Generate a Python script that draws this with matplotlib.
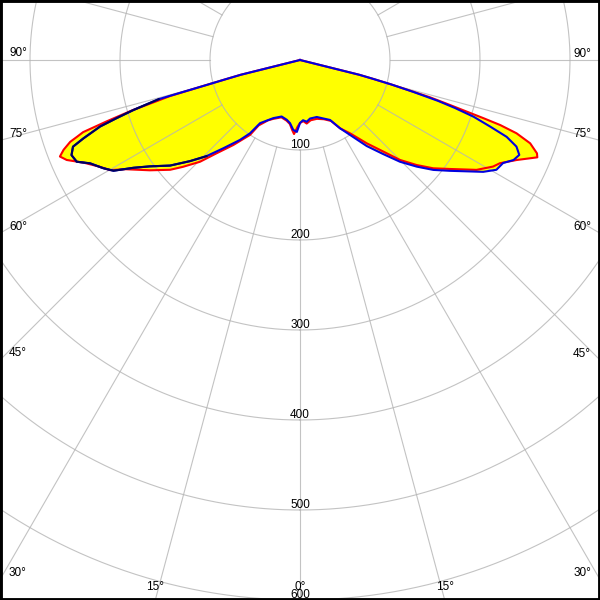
import numpy as np
import matplotlib
matplotlib.use("Agg")
import matplotlib.pyplot as plt
from matplotlib.patches import Rectangle
from matplotlib.transforms import offset_copy

# ---- data: luminous intensity (cd/klm) vs gamma angle (deg, negative = left) ----
red_gamma = [-180, -90, -77, -76, -75.5, -75, -74.5, -74, -73.3, -72.4, -71.6, -71, -70.4,
             -69.2, -68.1, -66.8, -64.6, -61.9, -59.9, -58, -53.7, -49.8, -47.6, -44.5,
             -41.8, -38.1, -33.7, -32.3, -28, -24.6, -18, -12.5, -9, -6.5, -4.6, -2, 0,
             3, 6, 10, 16, 22, 27, 30.4, 34.3, 38.7, 42.3, 45, 48, 50.9, 54, 58.1, 61.1,
             62.7, 65.2, 67.7, 68.5, 70.1, 71.3, 72, 72.4, 72.8, 73.3, 74, 75, 75.5, 76,
             77, 90, 180]
red_cd = [0, 0, 0, 68, 85, 110, 150, 165, 195, 225, 254, 262, 271,
          281, 287.5, 282, 266, 252, 244, 229, 207, 189, 176, 158.5,
          139, 120, 100, 86, 76, 72, 67, 69, 72, 78, 82.5, 74, 70,
          68, 71, 68, 68, 71, 76, 88, 98.6, 118.6, 137.6, 157, 174.4, 190.8, 206, 231, 245,
          250, 265, 285, 283, 272, 254, 234, 214, 194, 174, 150, 105, 85, 68,
          0, 0, 0]

blue_gamma = [-180, -90, -77, -76, -75.5, -75, -74.5, -73.3, -72.4, -71.6, -70.1, -69.1,
              -67.4, -65.5, -63.8, -61.2, -59.3, -57.1, -54.7, -50.9, -47.4, -44.2, -41,
              -36.9, -34.3, -32.3, -24.6, -18, -12.5, -9, -5.5, -2.5, 0,
              2.9, 6.2, 9.7, 16.4, 21.8, 26.6, 30.4, 33.7, 37.8, 41.5, 44.5, 47.6, 50.5,
              53.5, 58.6, 60.8, 63.1, 64.9, 66.6, 68.2, 69.6, 70.7, 71.9, 72.8, 73.5,
              74.3, 75, 75.5, 76, 77, 90, 180]
blue_cd = [0, 0, 0, 68, 85, 110, 163, 193, 214, 234, 256, 270,
           275, 272.6, 260, 249.5, 241, 220.5, 204.5, 186, 166, 149, 130,
           111, 98.6, 83, 71, 66, 68, 71, 78, 80, 70,
           67, 69, 66, 66, 70, 74.5, 88, 100, 121, 139.6, 158.5, 175.7, 192,
           207, 238.5, 250, 253, 262, 265.5, 259, 245, 224, 203, 180, 160,
           130, 105, 85, 68, 0, 0, 0]

navy_gamma = [-74.5, -73.3, -72.4, -71.6, -70.1, -69.1, -67.4, -65.5, -63.8, -61.2,
              -59.3, -57.1, -54.7, -50.9, -47.4, -44.2]
navy_cd = [163, 193, 214, 234, 256, 270, 275, 272.6, 260, 249.5,
           241, 220.5, 204.5, 186, 166, 149]

ring_values = [100, 200, 300, 400, 500, 600]
spoke_angles = list(range(0, 360, 15))
angle_labels = [90, 75, 60, 45, 30, 15, 0, -15, -30, -45, -60, -75, -90]

plt.rcParams['font.family'] = ['Liberation Sans', 'DejaVu Sans']
FS = 8.5

fig = plt.figure(figsize=(6, 6), dpi=100)
fig.patch.set_facecolor('white')
ax = fig.add_axes([-0.55, -0.15, 2.1, 2.1], projection='polar')
ax.set_theta_zero_location('S')
ax.set_theta_direction(1)
ax.set_rlim(0, 700)
ax.grid(False)
ax.set_xticks([])
ax.set_yticks([])
ax.spines['polar'].set_visible(False)
ax.set_facecolor('white')


def th(g):
    return np.deg2rad(np.asarray(g, dtype=float))


# yellow fill
ax.fill(th(red_gamma), red_cd, color='#FFFF00', lw=0, zorder=1)
ax.fill(th(blue_gamma), blue_cd, color='#FFFF00', lw=0, zorder=1)

# grid
grid_c = '#B4B4B4'
tt = np.linspace(0, 2 * np.pi, 1441)
for rv in ring_values:
    ax.plot(tt, np.full_like(tt, rv), color=grid_c, lw=0.8, alpha=0.8, zorder=2)
for a in spoke_angles:
    ax.plot(th([a, a]), [ring_values[0], 700], color=grid_c, lw=0.8, alpha=0.8, zorder=2)

# curves
ax.plot(th(red_gamma), red_cd, color='#FF0000', lw=1.5, zorder=3)
ax.plot(th(blue_gamma), blue_cd, color='#0000E0', lw=1.5, zorder=4)
ax.plot(th(navy_gamma), navy_cd, color='#00005A', lw=1.5, zorder=5)

# radial value labels
tr = offset_copy(ax.transData, fig=fig, x=0, y=2, units='dots')
for rv in ring_values:
    ax.text(0, rv, str(rv), ha='center', va='baseline', fontsize=FS, transform=tr,
            zorder=6, color='black')

# angle labels at the frame edge
fig.canvas.draw()
W, H = 600.0, 600.0
for g in angle_labels:
    p0 = ax.transData.transform((np.deg2rad(g), 0))
    p1 = ax.transData.transform((np.deg2rad(g), 600))
    d = p1 - p0
    ts = []
    if d[0] < -1e-9:
        ts.append(((0 - p0[0]) / d[0], 'L'))
    if d[0] > 1e-9:
        ts.append(((W - p0[0]) / d[0], 'R'))
    if d[1] < -1e-9:
        ts.append(((0 - p0[1]) / d[1], 'B'))
    t, side = min(ts, key=lambda z: z[0])
    e = p0 + t * d
    txt = f"{abs(g)}\u00b0"
    if side == 'L':
        fig.text(9 / W, (e[1] + 6.5) / H, txt, ha='left', va='center', fontsize=FS)
    elif side == 'R':
        fig.text(591 / W, (e[1] + 6.5) / H, txt, ha='right', va='center', fontsize=FS)
    else:
        fig.text(e[0] / W, 12.5 / H, txt, ha='center', va='center', fontsize=FS)

fig.patches.append(Rectangle((0, 0), 1, 1, transform=fig.transFigure, fill=False,
                             lw=3.5, ec='black', zorder=10))

fig.savefig('out.png', dpi=100, facecolor='white')
